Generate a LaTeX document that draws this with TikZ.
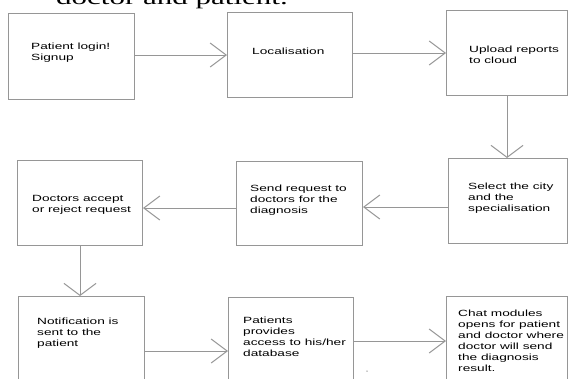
\documentclass[tikz,border=0pt]{standalone}
\usepackage{graphicx}
\usepackage{fontspec}
\setmainfont{Liberation Sans}
\newfontfamily\serifttl{Liberation Serif}
\usetikzlibrary{arrows.meta}
\definecolor{ln}{RGB}{150,150,150}
\newcommand\btxt[1]{\scalebox{1.52}[1]{\fontsize{9}{11}\selectfont\begin{tabular}[t]{@{}l@{}}#1\end{tabular}}}
\begin{document}
\begin{tikzpicture}[x=1pt,y=-1pt,
  box/.style={draw=ln, line width=1pt, inner sep=0pt, anchor=north west},
  txt/.style={anchor=base west, inner sep=0pt},
  harr/.style={draw=ln, line width=1pt, -{Straight Barb[length=16pt,width=24pt]}},
  varr/.style={draw=ln, line width=1pt, -{Straight Barb[length=12pt,width=32pt]}}]
\clip (0,0) rectangle (568,378);
\fill[white] (0,0) rectangle (568,378);
% title (cut off at top)
\node[anchor=base west, inner sep=0pt] (title) at (56,4) {\scalebox{1.52}[1]{\serifttl\fontsize{20.4}{24}\selectfont doctor and patient.}};
% boxes
\node[box, minimum width=126pt, minimum height=86pt] (b1) at (8,13) {};
\node[box, minimum width=125pt, minimum height=85pt] (b2) at (227,12) {};
\node[box, minimum width=121pt, minimum height=85pt] (b3) at (446,10) {};
\node[box, minimum width=119pt, minimum height=85pt] (b4) at (448,158) {};
\node[box, minimum width=126pt, minimum height=84pt] (b5) at (236,161) {};
\node[box, minimum width=125pt, minimum height=85pt] (b6) at (17,160) {};
\node[box, minimum width=126pt, minimum height=90pt] (b7) at (18,296) {};
\node[box, minimum width=125pt, minimum height=90pt] (b8) at (228,297) {};
\node[box, minimum width=121pt, minimum height=90pt] (b9) at (446,296) {};
% texts
\node[txt] (t1) at (31,49) {\btxt{Patient login!\\Signup}};
\node[txt] (t2) at (252,54) {\btxt{Localisation}};
\node[txt] (t3) at (469,52) {\btxt{Upload reports\\to cloud}};
\node[txt] (t4) at (468,189.5) {\btxt{Select the city\\and the\\specialisation}};
\node[txt] (t5) at (250,191.5) {\btxt{Send request to\\doctors for the\\diagnosis}};
\node[txt] (t6) at (32,201) {\btxt{Doctors accept\\or reject request}};
\node[txt] (t7) at (37,324) {\btxt{Notification is\\sent to the\\patient}};
\node[txt] (t8) at (243,323) {\btxt{Patients\\provides\\access to his/her\\database}};
\node[txt] (t9) at (458,316.5) {\btxt{Chat modules\\opens for patient\\and doctor where\\doctor will send\\the diagnosis\\result.}};
% stray dot
\node[circle, fill=ln, inner sep=0pt, minimum size=1.5pt] (dot) at (367,371) {};
% connectors
\draw[harr] (b1.east |- b2.west) -- (b2.west);
\draw[harr] (b2.east |- b3.west) -- (b3.west);
\draw[varr] (b3.south) -- (b3.south |- b4.north);
\draw[harr] (b4.west |- 0,207) -- (b5.east |- 0,207);
\draw[harr] (b5.west |- 0,208) -- (b6.east |- 0,208);
\draw[varr] (b6.south) -- (b6.south |- b7.north);
\draw[harr] (b7.east |- 0,351) -- (b8.west |- 0,351);
\draw[harr] (b8.east |- 0,341) -- (b9.west |- 0,341);
\end{tikzpicture}
\end{document}
